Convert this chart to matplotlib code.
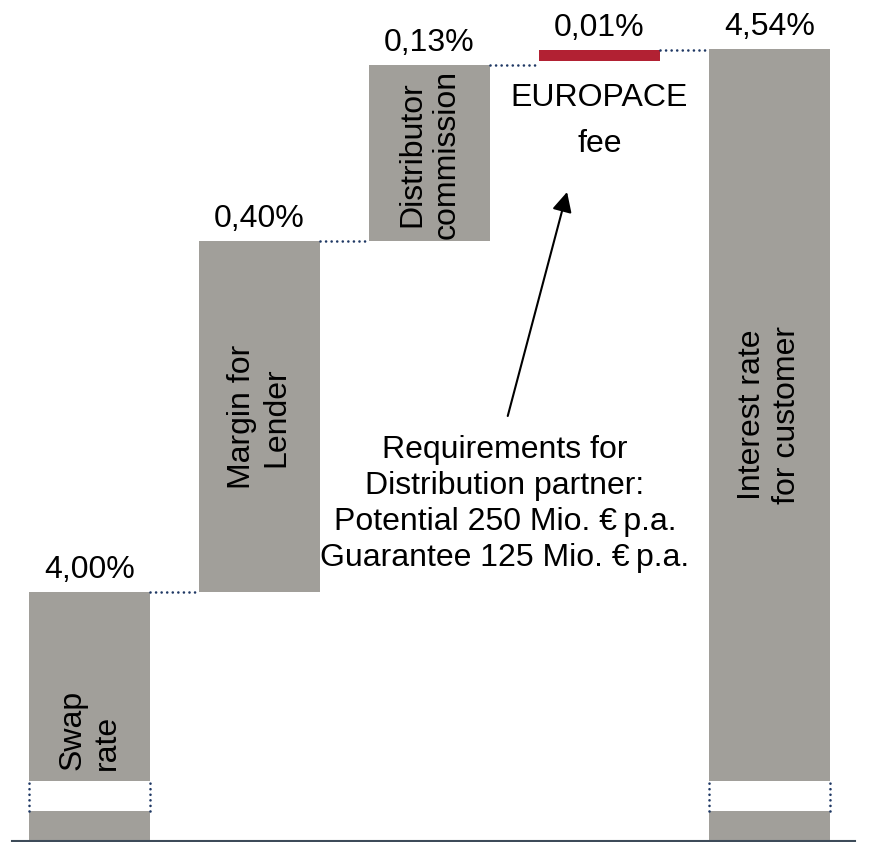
import matplotlib
matplotlib.use("Agg")
import matplotlib.pyplot as plt
import numpy as np

plt.rcParams['font.family'] = ['Liberation Sans', 'DejaVu Sans']

# Waterfall steps (values shown as labels)
steps = ["Swap\nrate", "Margin for\nLender", "Distributor\ncommission",
         "EUROPACE\nfee", "Interest rate\nfor customer"]
pct_values = [4.00, 0.40, 0.13, 0.01, 4.54]
# bar heights as drawn -- the original chart is not to scale and uses a broken axis
drawn_heights = [2.49, 3.51, 1.76, 0.11, 7.92]
fee_lift = 0.04
break_span = (0.30, 0.60)

requirements = ["Requirements for", "Distribution partner:",
                "Potential 250 Mio. \u20ac\u2009p.a.", "Guarantee 125 Mio. \u20ac\u2009p.a."]

gray = '#a19f9a'
red = '#b22133'
navy = '#1f3864'
fs = 23

# bottoms of the floating bars
bottoms = [0.0]
running = drawn_heights[0]
for i in range(1, 4):
    b = running + (fee_lift if i == 3 else 0.0)
    bottoms.append(b)
    running = b + drawn_heights[i]
bottoms.append(0.0)
tops = [b + h for b, h in zip(bottoms, drawn_heights)]

fig = plt.figure(figsize=(8.85, 8.42), dpi=100)
ax = fig.add_axes([0, 0, 1, 1])
ax.set_xlim(-0.5265, 4.679)
ax.set_ylim(-0.01, 8.41)
ax.axis('off')

x = np.arange(len(steps))
w = 0.712
colors = [gray, gray, gray, red, gray]
ax.bar(x, drawn_heights, bottom=bottoms, width=w, color=colors, zorder=2)

dots = (0, (0.01, 2.1))

# axis break on the first and last bar
for i in (0, 4):
    ax.bar(x[i], break_span[1] - break_span[0], bottom=break_span[0], width=w,
           color='white', zorder=3)
    lc = ax.vlines([x[i] - w / 2, x[i] + w / 2], break_span[0], break_span[1],
                   colors=navy, linestyles=dots, lw=1.9, zorder=4)
    lc.set_capstyle('round')

# dotted connectors
for i in range(4):
    lc = ax.hlines(tops[i], x[i] + w / 2, x[i + 1] - w / 2, colors=navy,
                   linestyles=dots, lw=1.9, zorder=4)
    lc.set_capstyle('round')

# baseline
ax.axhline(0, xmin=12 / 885, xmax=855 / 885, color='#3d4b59', lw=1.5, zorder=5)

# value labels
for i, v in enumerate(pct_values):
    lab = f"{v:.2f}".replace('.', ',') + '%'
    ax.annotate(lab, (x[i], tops[i]), xytext=(0, 10), textcoords='offset points',
                ha='center', va='baseline', fontsize=fs)

# names inside bars
ax.text(x[0], 1.115, steps[0], rotation=90, ha='center', va='center',
        multialignment='left', fontsize=fs, linespacing=1.2, zorder=6)
ax.text(x[1], 4.24, steps[1], rotation=90, ha='center', va='center',
        multialignment='center', fontsize=fs, linespacing=1.2, zorder=6)
ax.text(x[2], 6.87, steps[2], rotation=90, ha='center', va='center',
        multialignment='center', fontsize=fs, linespacing=1.2, zorder=6)
ax.text(x[4], 4.26, steps[4], rotation=90, ha='center', va='center',
        multialignment='center', fontsize=fs, linespacing=1.2, zorder=6)
ax.text(x[3], 7.20, steps[3], ha='center', va='center',
        multialignment='center', fontsize=fs, linespacing=1.68)

# requirements note with arrow to the fee
ax.text(2.444, 3.37, "\n".join(requirements), ha='center', va='center',
        fontsize=fs, linespacing=1.25)
ax.annotate("", xy=(2.809, 6.49), xytext=(2.46, 4.25),
            arrowprops=dict(arrowstyle='-|>', lw=1.5, color='black',
                            mutation_scale=30, shrinkA=0, shrinkB=0))

fig.savefig("out.png", dpi=100)
